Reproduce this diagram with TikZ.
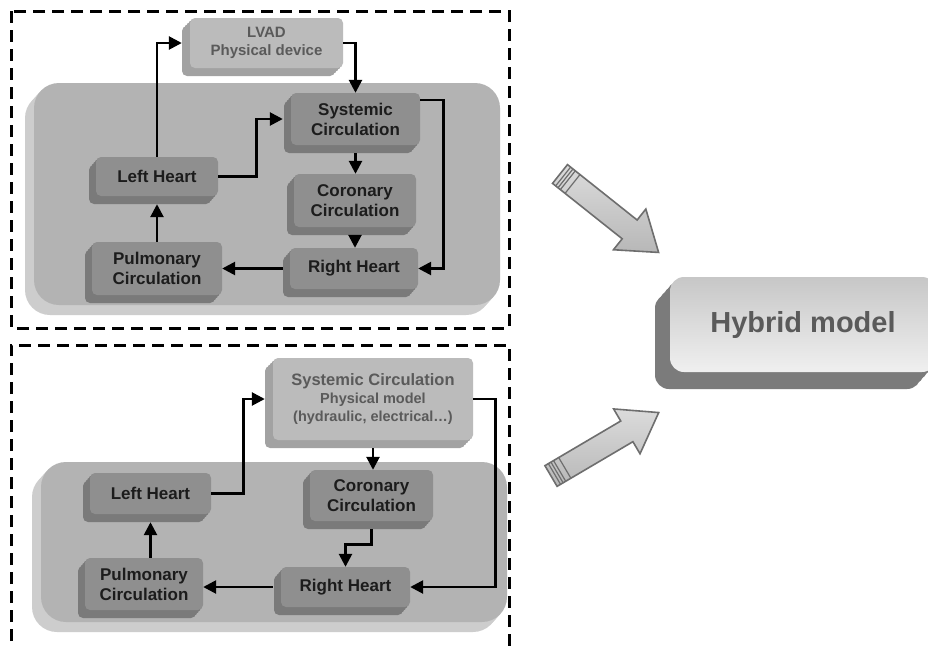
\documentclass[tikz,border=0pt]{standalone}
\usepackage{fontspec}
\setmainfont{Liberation Sans}
\usepackage{tikz}
\usetikzlibrary{calc,positioning,arrows.meta,shadows}

\definecolor{panelface}{HTML}{B3B3B3}
\definecolor{panelside}{HTML}{CDCDCD}
\definecolor{blockface}{HTML}{8F8F8F}
\definecolor{blockside}{HTML}{7A7A7A}
\definecolor{blocktext}{HTML}{1C1C1C}
\definecolor{physface}{HTML}{BBBBBB}
\definecolor{physside}{HTML}{A2A2A2}
\definecolor{phystext}{HTML}{5A5A5A}
\definecolor{hybridside}{HTML}{7B7B7B}
\definecolor{arrowline}{HTML}{6E6E6E}

\tikzset{
    extrude/.style n args={3}{
        copy shadow={shadow xshift=#1, shadow yshift=#2, fill=#3, draw=none},
        copy shadow={shadow xshift=0.75*#1, shadow yshift=0.75*#2, fill=#3, draw=none},
        copy shadow={shadow xshift=0.5*#1, shadow yshift=0.5*#2, fill=#3, draw=none},
        copy shadow={shadow xshift=0.25*#1, shadow yshift=0.25*#2, fill=#3, draw=none}},
    boxbase/.style={rounded corners=5pt, align=center, inner sep=0pt, draw=none},
    block/.style={boxbase, fill=blockface, text=blocktext,
        font=\bfseries\fontsize{17}{20}\selectfont, extrude={-7pt}{-8pt}{blockside}},
    physical/.style={boxbase, fill=physface, text=phystext,
        font=\bfseries\fontsize{15}{18}\selectfont, extrude={-8pt}{-8pt}{physside}},
    panel/.style={rounded corners=25pt, fill=panelface, draw=none, extrude={-9pt}{-10pt}{panelside}},
    hybridbox/.style={rounded corners=14pt, draw=none, top color=black!22, bottom color=black!6,
        text=phystext, font=\bfseries\fontsize{29}{34}\selectfont,
        extrude={-15pt}{-17pt}{hybridside}},
    link/.style={line width=2.6pt, -{Triangle[length=13pt,width=13pt]}},
    frame/.style={line width=3pt, dash pattern=on 12pt off 7pt},
    bigarrow/.style={draw=arrowline, line width=1.6pt, line join=miter, top color=black!14, bottom color=black!28},
    stripe/.style={draw=arrowline, line width=1.2pt}
}

\begin{document}
\begin{tikzpicture}[x=1pt,y=-1pt]
        \useasboundingbox (0,0) rectangle (928,645);
        \fill[white] (0,0) rectangle (928,645);

        % dashed frames
        \draw[frame] (11,11) rectangle (509,328);
        \draw[frame] (11,660) |- (509,345) -- (509,660);

        % upper model
        \node[panel, minimum width=466pt, minimum height=222pt] (toppanel) at (267,194) {};
        \node[physical, minimum width=153pt, minimum height=50pt] (lvad) at (266.5,43) {LVAD\\Physical device};
        \node[block, minimum width=129pt, minimum height=52pt] (sysTop) at (355.5,119) {Systemic\\Circulation};
        \node[block, minimum width=122pt, minimum height=39pt] (leftTop) at (157,176.5) {Left Heart};
        \node[block, minimum width=122pt, minimum height=53pt] (corTop) at (355,200.5) {Coronary\\Circulation};
        \node[block, minimum width=130pt, minimum height=53pt] (pulTop) at (157,268.5) {Pulmonary\\Circulation};
        \node[block, minimum width=128pt, minimum height=41pt] (rightTop) at (354,268.5) {Right Heart};

        \draw[link] (leftTop.north) |- ([xshift=-8pt]lvad.west);
        \draw[link] (lvad.east) -| (sysTop.north);
        \draw[link] (leftTop.east) -- ++(38,0) |- ([xshift=-8pt]sysTop.west);
        \draw[link] ([yshift=-8pt]sysTop.south) -- (sysTop.south |- corTop.north);
        \draw[link] ([yshift=19pt]sysTop.east) -- ++(23,0) |- (rightTop.east);
        \draw[link] ([yshift=-8pt]corTop.south) -- (corTop.south |- rightTop.north);
        \draw[link] ([xshift=-7pt]rightTop.west) -- (pulTop.east |- rightTop.west);
        \draw[link] (pulTop.north) -- ([yshift=-8pt]leftTop.south);

        % lower model
        \node[panel, minimum width=466pt, minimum height=160pt] (botpanel) at (274,542) {};
        \node[physical, minimum width=200pt, minimum height=82pt, font=\bfseries\fontsize{14.5}{18}\selectfont] (sysBot) at (373,399)
            {{\fontsize{16.5}{19}\selectfont Systemic Circulation}\\Physical model\\(hydraulic, electrical…)};
        \node[block, minimum width=121pt, minimum height=41pt] (leftBot) at (150.5,493.5) {Left Heart};
        \node[block, minimum width=123pt, minimum height=51pt] (corBot) at (371.5,495.5) {Coronary\\Circulation};
        \node[block, minimum width=118pt, minimum height=52pt] (pulBot) at (144,584) {Pulmonary\\Circulation};
        \node[block, minimum width=129pt, minimum height=40pt] (rightBot) at (345.5,587) {Right Heart};

        \draw[link] (leftBot.east) -- ++(32,0) |- ([xshift=-8pt]sysBot.west);
        \draw[link] (sysBot.east) -- ++(22,0) |- (rightBot.east);
        \draw[link] ([yshift=-8pt]sysBot.south) -- (sysBot.south |- corBot.north);
        \draw[link] ([yshift=-8pt]corBot.south) -- ++(0,15) -| (rightBot.north);
        \draw[link] ([xshift=-8pt]rightBot.west) -- (pulBot.east |- rightBot.west);
        \draw[link] (leftBot.south |- pulBot.north) -- ([yshift=-8pt]leftBot.south);

        % hybrid model
        \node[hybridbox, minimum width=266pt, minimum height=95pt] (hybrid) at (803,324.5) {Hybrid model};

        \begin{scope}[shift={(560,174)}, rotate=-38.5]
            \draw[bigarrow] (0,-12) -- (89,-12) -- (89,-26) -- (126,0) -- (89,26) -- (89,12) -- (0,12) -- cycle;
            \foreach \s in {4,7,10,16} \draw[stripe] (\s,-12) -- (\s,12);
        \end{scope}
        \begin{scope}[shift={(551,476)}, rotate=30.5]
            \draw[bigarrow] (0,-12) -- (88,-12) -- (88,-26) -- (125,0) -- (88,26) -- (88,12) -- (0,12) -- cycle;
            \foreach \s in {4,7,10,16} \draw[stripe] (\s,-12) -- (\s,12);
        \end{scope}
    \end{tikzpicture}
\end{document}
